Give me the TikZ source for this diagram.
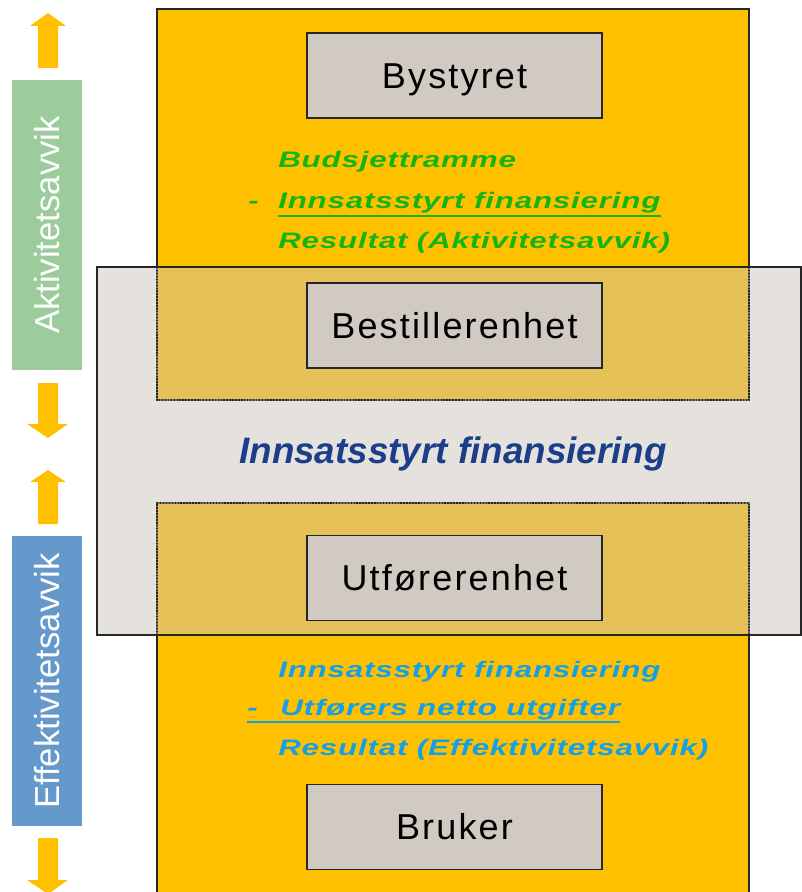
\documentclass[tikz,border=0pt]{standalone}
\usepackage{fontspec}
\setmainfont{Liberation Sans}
\newfontfamily\widefont[FakeStretch=1.4,LetterSpace=3.5]{Liberation Sans}
\newfontfamily\unitfont[LetterSpace=6]{Liberation Sans}
\usetikzlibrary{positioning,calc}

\definecolor{orng}{RGB}{255,192,0}
\definecolor{bandgrey}{RGB}{201,195,186}
\definecolor{unitfill}{RGB}{208,202,194}
\definecolor{edge}{RGB}{38,38,38}
\definecolor{barGreen}{RGB}{156,204,156}
\definecolor{barBlue}{RGB}{101,153,204}
\definecolor{txtGreen}{RGB}{20,180,20}
\definecolor{txtBlue}{RGB}{20,160,230}
\definecolor{txtNavy}{RGB}{28,62,138}

\begin{document}
\begin{tikzpicture}[x=0.75pt,y=0.75pt,yscale=-1,
  unit/.style={draw=edge,line width=1.1pt,fill=unitfill,minimum width=221.25pt,minimum height=63.75pt,
    text height=19.3pt,text depth=0pt,font=\unitfont\fontsize{27}{30}\selectfont},
  bar/.style={rotate=90,minimum width=217.5pt,minimum height=52.5pt,text=white,
    text height=18.6pt,text depth=0pt,font=\fontsize{26}{30}\selectfont},
  gtxt/.style={anchor=base west,inner sep=0pt,text=txtGreen,font=\widefont\bfseries\itshape\fontsize{16.8}{18}\selectfont},
  btxt/.style={gtxt,text=txtBlue},
  uline/.style={line width=1.5pt},
  arr/.style={fill=orng},
  border/.style={draw=edge,line width=1.1pt},
  dotline/.style={draw=edge,line width=1.1pt,dash pattern=on 1.1pt off 1.1pt}]
\useasboundingbox (0,0) rectangle (802,892);
\clip (0,0) rectangle (802,892);

%Shape: Rectangle (top level)
\draw [border,fill=orng] (157,9) rectangle (749,400);
%Shape: Rectangle (bottom level)
\draw [border,fill=orng] (157,503) rectangle (749,900);
%Shape: Rectangle (grey band)
\fill [bandgrey,fill opacity=0.48] (97,267) rectangle (801,635);
\draw [border] (97,267) rectangle (801,635);
% edges seen through the band
\draw [dotline] (157,267) -- (157,400) -- (749,400) -- (749,267);
\draw [dotline] (157,635) -- (157,503) -- (749,503) -- (749,635);

% Units
\node [unit] (byst) at (454.5,75.5) {Bystyret};
\node [unit] (best) at (454.5,325.5) {Bestillerenhet};
\node [unit] (utf) at (454.5,578) {Utførerenhet};
\node [unit] (bruk) at (454.5,827) {Bruker};

% Text Node
\node [gtxt] (g1) at (278,167) {Budsjettramme};
\node [gtxt] (gdash) at (248,208) {-};
\node [gtxt] (g2) at (278,208) {Innsatsstyrt finansiering};
\node [gtxt] (g3) at (278,248) {Resultat (Aktivitetsavvik)};
\draw [uline,txtGreen] ($(g2.base west)+(0,8)$) -- ($(g2.base east)+(0,8)$);

% Text Node
\node [anchor=base,inner sep=0pt,text=txtNavy,font=\bfseries\itshape\fontsize{27.6}{30}\selectfont] (mid) at (453,463) {Innsatsstyrt finansiering};

% Text Node
\node [btxt] (b1) at (278,677) {Innsatsstyrt finansiering};
\node [btxt] (bdash) at (247,715) {-};
\node [btxt] (b2) at (280,715) {Utførers netto utgifter};
\node [btxt] (b3) at (278,755) {Resultat (Effektivitetsavvik)};
\draw [uline,txtBlue] ($(bdash.base west)+(0,7)$) -- ($(b2.base east)+(0,7)$);

% Side bars
\node [bar,fill=barGreen] (akt) at (47,225) {Aktivitetsavvik};
\node [bar,fill=barBlue] (eff) at (47,681) {Effektivitetsavvik};

%Shape: Up Arrow
\fill [arr] (48,13) -- (66,26) -- (58,26) -- (58,68) -- (38,68) -- (38,26) -- (30,26) -- cycle;
%Shape: Down Arrow
\fill [arr] (38,383) -- (58,383) -- (58,424) -- (68,424) -- (48,438) -- (27,424) -- (38,424) -- cycle;
%Shape: Up Arrow
\fill [arr] (48,470) -- (66,482) -- (58,482) -- (58,524) -- (38,524) -- (38,482) -- (30,482) -- cycle;
%Shape: Down Arrow
\fill [arr] (38,838) -- (58,838) -- (58,880) -- (68,880) -- (48,894) -- (27,880) -- (38,880) -- cycle;

\end{tikzpicture}
\end{document}
